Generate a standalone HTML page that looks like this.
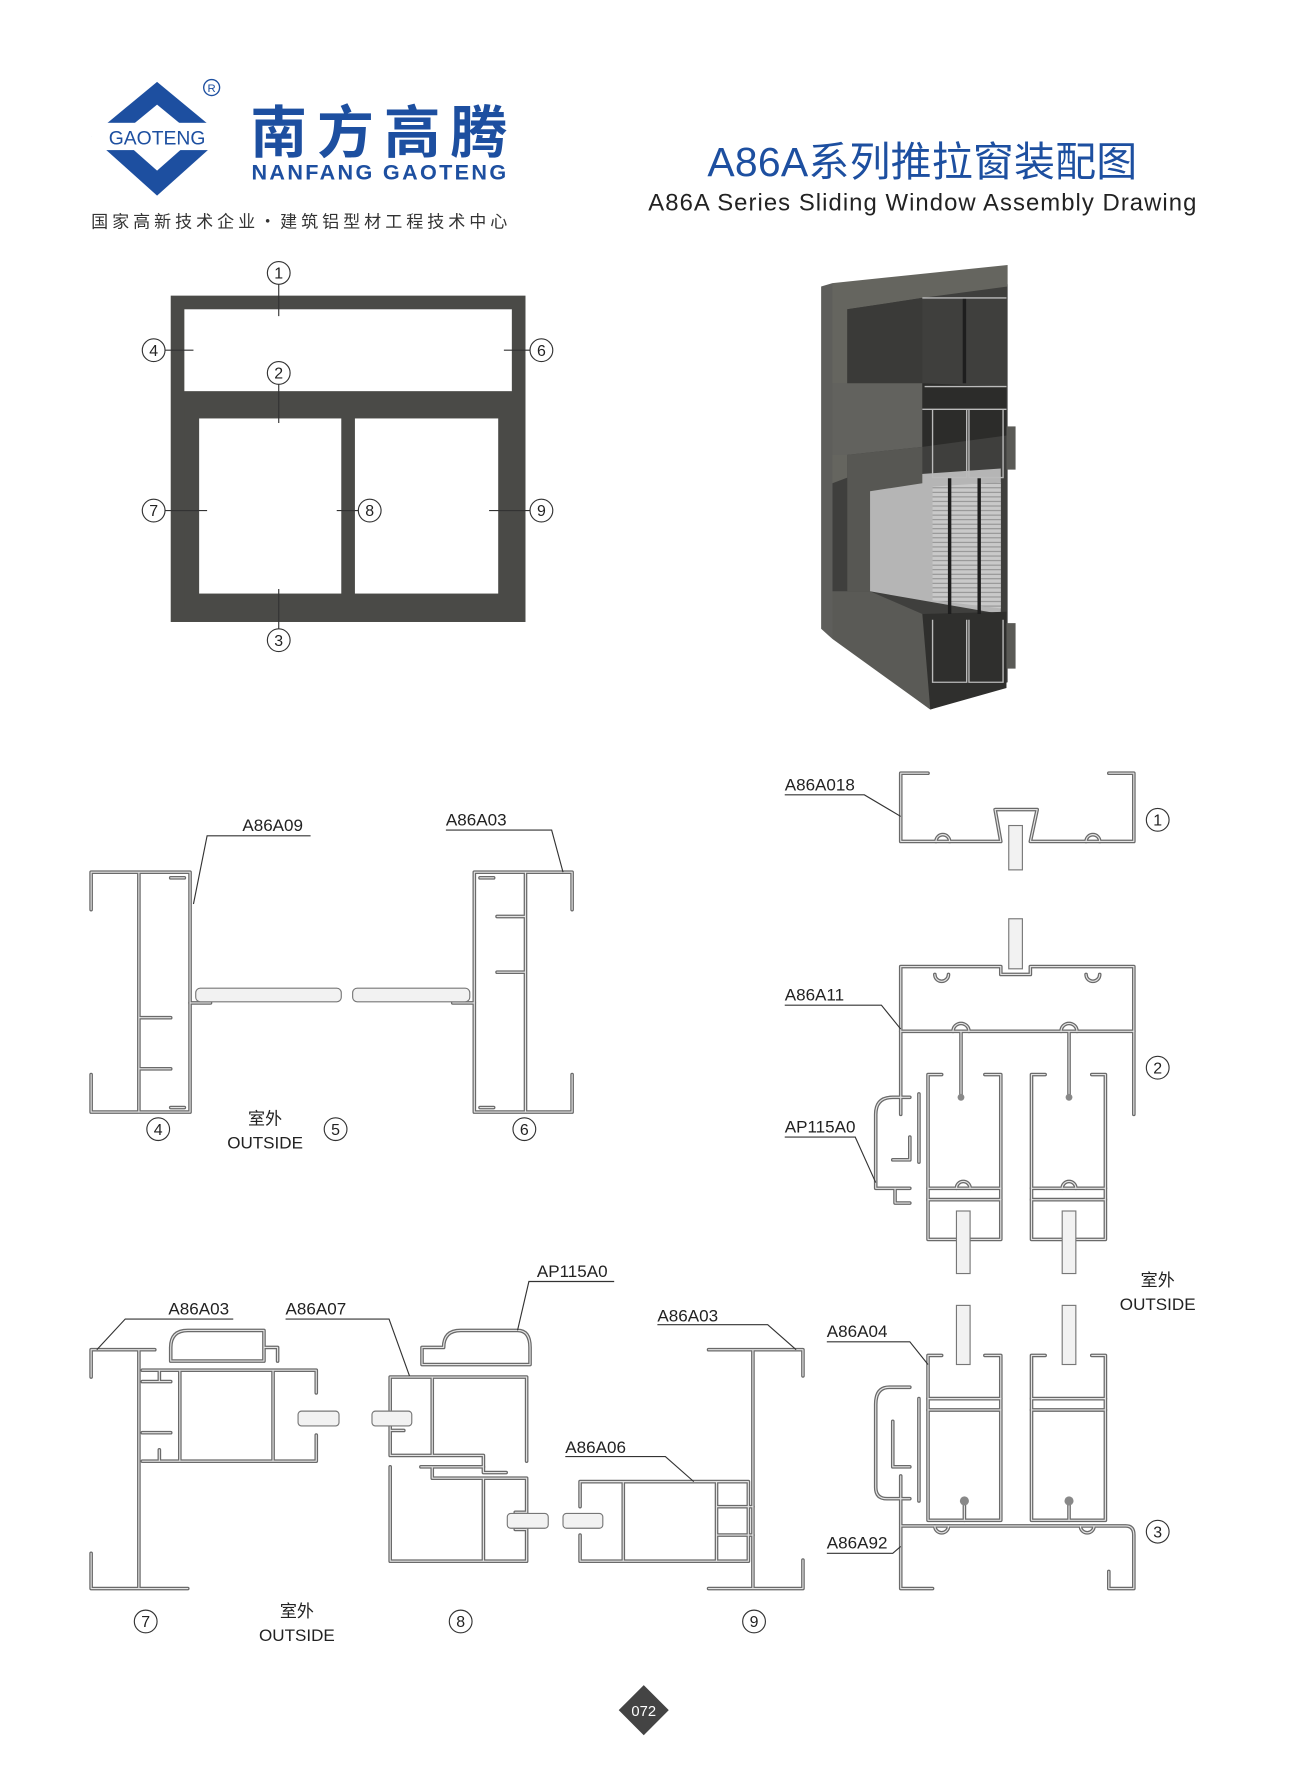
<!DOCTYPE html>
<html><head><meta charset="utf-8"><style>
html,body{margin:0;padding:0;background:#fff;}
svg{display:block;}
text{font-family:"Liberation Sans","Noto Sans CJK SC",sans-serif;}
</style></head><body>
<svg width="1300" height="1775" viewBox="0 0 1143 1561" xmlns="http://www.w3.org/2000/svg">
<rect width="1143" height="1561" fill="#fff"/>
<defs>
<pattern id="mesh" width="4" height="4" patternUnits="userSpaceOnUse"><rect width="4" height="4" fill="#c9c9c9"/><line x1="0" y1="1" x2="4" y2="1" stroke="#888" stroke-width="0.8"/></pattern>
<g id="pf">
<path d="M816,680 H792 V740 H880 L875,712 H912 L906,740 H997 V680 H975"/>
<path d="M823,740 a6,6 0 1 1 12,0 M955,740 a6,6 0 1 1 12,0"/>
<path d="M792,980 V850 H880 V857 H906 V850 H997 V980"/>
<path d="M792,907 H997 M845,907 V965 M940,907 V965"/>
<path d="M822,857 a6,6 0 1 0 12,0 M955,857 a6,6 0 1 0 12,0 M838,907 a7,7 0 1 1 14,0 M933,907 a7,7 0 1 1 14,0"/>
<path d="M828,945 H816 V1090 H880 V945 H866 M919,945 H907 V1090 H972 V945 H960"/>
<path d="M816,1045 H880 M816,1055 H880 M907,1045 H972 M907,1055 H972"/>
<path d="M841,1045 a6,6 0 1 1 12,0 M934,1045 a6,6 0 1 1 12,0"/>
<path d="M800,965 H785 Q770,965 770,980 V1045 H800 M787,1045 V1058 H800 M785,1020 H800 V1000 M808,962 V1022"/>
<path d="M816,1192 V1337 H880 V1192 H866 M828,1192 H816 M907,1192 V1337 H972 V1192 H960 M919,1192 H907"/>
<path d="M816,1230 H880 M816,1240 H880 M907,1230 H972 M907,1240 H972 M848,1320 V1337 M940,1320 V1337"/>
<path d="M792,1298 V1397 H820 M792,1342 H990 Q997,1342 997,1350 V1397 H975 V1382"/>
<path d="M822,1342 a6,6 0 1 0 12,0 M950,1342 a6,6 0 1 0 12,0"/>
<path d="M800,1220 H782 Q770,1220 770,1235 V1308 Q770,1318 780,1318 H800 M785,1250 V1290 H800 M808,1230 V1320"/>
<path d="M80,800 V767 H167 V978 H80 V945 M122,767 V978 M122,895 H150 M122,940 H150 M150,772 H162 M150,974 H162"/>
<path d="M503,800 V767 H417 V978 H503 V945 M462,767 V978 M462,806 H437 M462,855 H437 M422,772 H434 M422,974 H434"/>
<path d="M167,882 H185 M417,882 H398"/>
<path d="M80,1211 V1187 H136 M122,1187 V1397 M80,1366 V1397 H165"/>
<path d="M150,1197 V1185 Q150,1170 165,1170 H232 V1197 M150,1197 H232 M232,1185 H244 V1197"/>
<path d="M125,1205 H278 V1225 M278,1262 V1285 H125 M158,1205 V1285 M240,1205 V1285 M125,1215 H150 M125,1260 H150 M140,1205 V1215 M140,1275 V1285"/>
<path d="M371,1200 V1185 H390 Q390,1170 405,1170 H455 Q466,1170 466,1185 V1200 H371"/>
<path d="M343,1211 H463 V1285 M343,1211 V1280 H425 V1295 H445 M380,1211 V1280 M343,1243 H355 M343,1258 H355"/>
<path d="M343,1290 V1373 H463 V1300 H380 V1290 M425,1300 V1373 M463,1330 H453 M463,1345 H453 M370,1290 H425"/>
<path d="M623,1187 H706 V1210 M662,1187 V1397 M623,1397 H706 V1372"/>
<path d="M510,1303 H658 V1373 H510 V1350 M510,1325 V1303 M548,1303 V1373 M630,1303 V1373 M630,1325 H662 M630,1350 H662"/>
</g>
</defs>
<polygon points="138,72 196,120 138,172 80,120" fill="#1d4fa0"/>
<polygon points="138,92 172,120 138,150 104,120" fill="#fff"/>
<rect x="80" y="108" width="116" height="24" fill="#fff"/>
<text x="138" y="127" font-size="17" fill="#1d4fa0" text-anchor="middle">GAOTENG</text>
<circle cx="186" cy="77" r="7" fill="none" stroke="#1d4fa0" stroke-width="1.2"/>
<text x="186" y="81" font-size="10" fill="#1d4fa0" text-anchor="middle">R</text>
<text x="220" y="134" font-size="50" font-weight="bold" fill="#1d4fa0" font-family="Noto Sans CJK SC,sans-serif" textLength="226">南方高腾</text>
<text x="221" y="158" font-size="19" font-weight="bold" fill="#1d4fa0" textLength="224">NANFANG GAOTENG</text>
<text x="80" y="200" font-size="15" fill="#333" textLength="366">国家高新技术企业・建筑铝型材工程技术中心</text>
<text x="811" y="155" font-size="36" fill="#1d4fa0" text-anchor="middle" textLength="378">A86A系列推拉窗装配图</text>
<text x="811" y="185" font-size="21" fill="#222" text-anchor="middle" textLength="482">A86A Series Sliding Window Assembly Drawing</text>

<rect x="150" y="260" width="312" height="287" fill="#4a4a47"/>
<rect x="162" y="272" width="288" height="72" fill="#fff"/>
<rect x="162" y="356" width="288" height="179" fill="#4a4a47"/>
<rect x="175" y="368" width="125" height="154" fill="#fff"/>
<rect x="312" y="368" width="126" height="154" fill="#fff"/>
<g stroke="#333" stroke-width="1" fill="none">
<path d="M245,250 V278 M245,338 V372 M245,518 V553 M145,308 H170 M443,308 H466 M145,449 H182 M296,449 H315 M430,449 H466"/>
</g>
<g fill="#fff" stroke="#333" stroke-width="1">
<circle cx="245" cy="240" r="10"/><circle cx="135" cy="308" r="10"/><circle cx="476" cy="308" r="10"/><circle cx="245" cy="328" r="10"/>
<circle cx="135" cy="449" r="10"/><circle cx="325" cy="449" r="10"/><circle cx="476" cy="449" r="10"/><circle cx="245" cy="563" r="10"/>
</g>
<g font-size="14" fill="#222" text-anchor="middle">
<text x="245" y="245">1</text><text x="135" y="313">4</text><text x="476" y="313">6</text><text x="245" y="333">2</text>
<text x="135" y="454">7</text><text x="325" y="454">8</text><text x="476" y="454">9</text><text x="245" y="568">3</text>
</g>

<polygon points="732,270 886,250 886,600 818,624 732,560" fill="#3f3f3d"/>
<polygon points="765,420 880,412 880,540 765,520" fill="#b5b5b5"/>
<polygon points="820,428 880,424 880,535 820,528" fill="url(#mesh)"/>
<polygon points="722,252 732,249 732,562 722,553" fill="#5e5e5b"/>
<polygon points="732,249 886,233 886,252 811,262 745,272 745,420 732,425" fill="#65655f"/>
<polygon points="745,272 811,262 811,337 745,340" fill="#3a3a38"/>
<polygon points="732,337 811,337 811,393 745,400 732,400" fill="#62625e"/>
<polygon points="811,337 885,340 885,383 811,393" fill="#2c2c2a"/>
<polygon points="745,400 811,393 811,425 765,432 765,520 745,520" fill="#575753"/>
<polygon points="732,520 765,520 811,540 885,540 885,600 818,624 732,562" fill="#5a5a56"/>
<polygon points="811,540 885,538 885,605 818,624" fill="#2f2f2d"/>
<rect x="885" y="375" width="8" height="38" fill="#5a5a56"/>
<rect x="885" y="548" width="8" height="40" fill="#5a5a56"/>
<g stroke="#1e1e1e" stroke-width="3"><line x1="848" y1="262" x2="848" y2="337"/><line x1="835" y1="420" x2="835" y2="540"/><line x1="861" y1="420" x2="861" y2="540"/></g>
<g stroke="#bbb" stroke-width="1.2" fill="none">
<path d="M811,262 H885 M813,340 H885 M811,360 H885 M820,360 V420 H850 V360 M852,360 V420 H882 V360 M820,545 V600 H850 V545 M852,545 V600 H882 V545"/>
</g>

<g fill="none" stroke-linecap="round" stroke-linejoin="round">
<use href="#pf" stroke="#6a6a6a" stroke-width="3.2"/>
<use href="#pf" stroke="#e4e4e4" stroke-width="1"/>
</g>
<g fill="#f2f2f2" stroke="#777" stroke-width="1">
<rect x="887" y="726" width="12" height="39"/><rect x="887" y="808" width="12" height="44"/>
<rect x="841" y="1065" width="12" height="55"/><rect x="934" y="1065" width="12" height="55"/>
<rect x="841" y="1148" width="12" height="52"/><rect x="934" y="1148" width="12" height="52"/>
<rect x="172" y="869" width="128" height="12" rx="4"/><rect x="310" y="869" width="103" height="12" rx="4"/>
<rect x="262" y="1241" width="36" height="13" rx="3"/><rect x="327" y="1241" width="35" height="13" rx="3"/>
<rect x="446" y="1331" width="36" height="13" rx="3"/><rect x="495" y="1331" width="35" height="13" rx="3"/>
</g>
<g fill="#888"><circle cx="848" cy="1320" r="4"/><circle cx="940" cy="1320" r="4"/><circle cx="845" cy="965" r="3"/><circle cx="940" cy="965" r="3"/></g>

<g stroke="#333" stroke-width="1" fill="none">
<path d="M690,699 H760 L792,718"/>
<path d="M690,884 H775 L792,905"/>
<path d="M690,1000 H752 L770,1040"/>
<path d="M727,1180 H800 L816,1200"/>
<path d="M727,1366 H785 L792,1360"/>
<path d="M273,735 H182 L170,795"/>
<path d="M392,730 H485 L495,767"/>
<path d="M205,1160 H110 L85,1187"/>
<path d="M251,1160 H342 L360,1210"/>
<path d="M540,1127 H465 L455,1170"/>
<path d="M578,1165 H675 L700,1187"/>
<path d="M497,1281 H585 L610,1303"/>
</g>
<g font-size="15" fill="#222">
<text x="690" y="695">A86A018</text><text x="690" y="880">A86A11</text><text x="690" y="996">AP115A0</text>
<text x="727" y="1176">A86A04</text><text x="727" y="1362">A86A92</text>
<text x="213" y="731">A86A09</text><text x="392" y="726">A86A03</text>
<text x="148" y="1156">A86A03</text><text x="251" y="1156">A86A07</text><text x="472" y="1123">AP115A0</text>
<text x="578" y="1162">A86A03</text><text x="497" y="1278">A86A06</text>
</g>
<g font-size="15" fill="#222" text-anchor="middle">
<text x="233" y="989">室外</text><text x="233" y="1010">OUTSIDE</text>
<text x="1018" y="1131">室外</text><text x="1018" y="1152">OUTSIDE</text>
<text x="261" y="1422">室外</text><text x="261" y="1443">OUTSIDE</text>
</g>
<g fill="#fff" stroke="#333" stroke-width="1">
<circle cx="1018" cy="721" r="10"/><circle cx="1018" cy="939" r="10"/><circle cx="1018" cy="1347" r="10"/>
<circle cx="139" cy="993" r="10"/><circle cx="295" cy="993" r="10"/><circle cx="461" cy="993" r="10"/>
<circle cx="128" cy="1426" r="10"/><circle cx="405" cy="1426" r="10"/><circle cx="663" cy="1426" r="10"/>
</g>
<g font-size="14" fill="#222" text-anchor="middle">
<text x="1018" y="726">1</text><text x="1018" y="944">2</text><text x="1018" y="1352">3</text>
<text x="139" y="998">4</text><text x="295" y="998">5</text><text x="461" y="998">6</text>
<text x="128" y="1431">7</text><text x="405" y="1431">8</text><text x="663" y="1431">9</text>
</g>
<polygon points="566,1482 588,1504 566,1526 544,1504" fill="#444"/>
<text x="566" y="1509" font-size="13" fill="#fff" text-anchor="middle">072</text>
</svg>
</body></html>
